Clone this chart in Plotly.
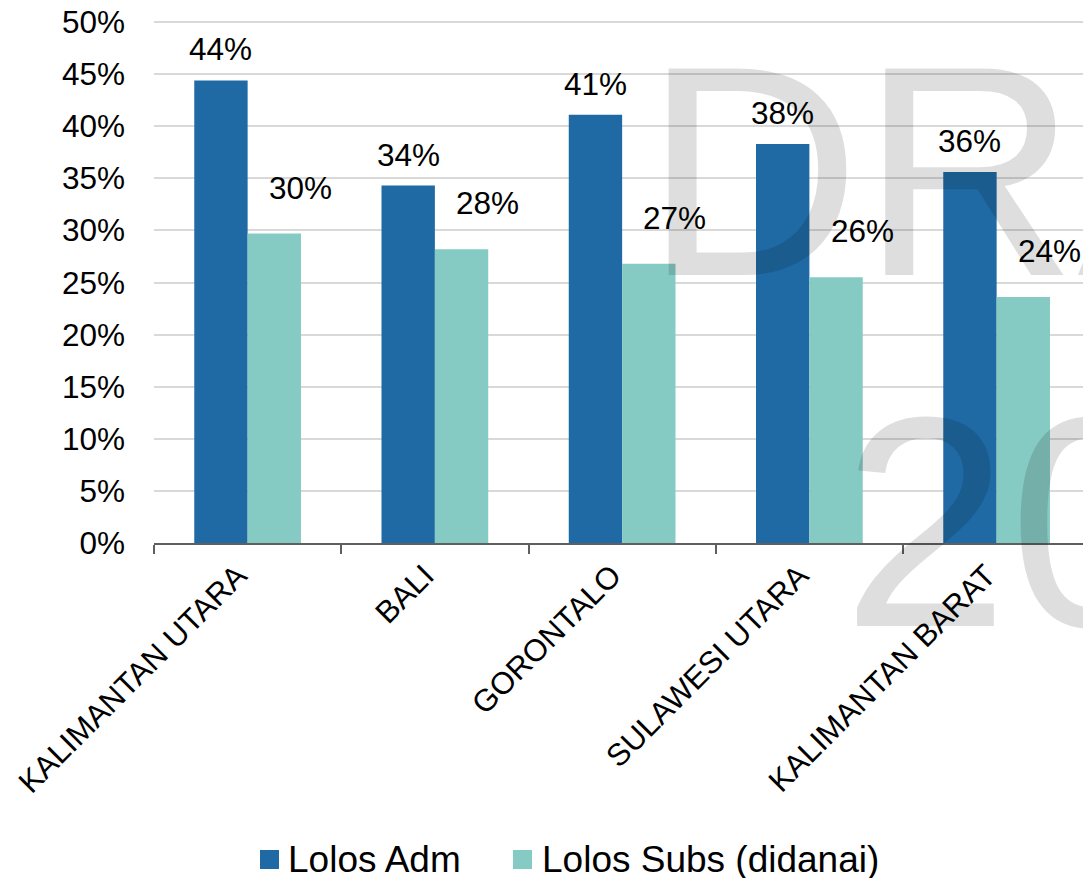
import plotly.graph_objects as go

# Provinces and shares of proposals passing each stage
provinces = ["KALIMANTAN UTARA", "BALI", "GORONTALO", "SULAWESI UTARA", "KALIMANTAN BARAT"]
lolos_adm = [0.444, 0.343, 0.411, 0.383, 0.356]
lolos_subs = [0.297, 0.282, 0.268, 0.255, 0.236]
y_ticks = [0, 0.05, 0.10, 0.15, 0.20, 0.25, 0.30, 0.35, 0.40, 0.45, 0.50]
series_names = ["Lolos Adm", "Lolos Subs (didanai)"]

BLUE = "#1f6aa5"
TEAL = "#86cbc3"
FONT = "Liberation Sans, Arial, sans-serif"

W, H = 1083, 878
ML, MR, MT, MB = 154, 0, 21, 335
PW = W - ML - MR
PH = H - MT - MB


def px_x(px):
    return (px - ML) / PW


def px_y(py):
    return (H - MB - py) / PH


fig = go.Figure()
fig.add_trace(go.Bar(x=provinces, y=lolos_adm, name=series_names[0],
                     marker=dict(color=BLUE, line=dict(width=0)), showlegend=False))
fig.add_trace(go.Bar(x=provinces, y=lolos_subs, name=series_names[1],
                     marker=dict(color=TEAL, line=dict(width=0)), showlegend=False))

BARGAP = 0.43
half = (1 - BARGAP) / 4  # offset of each bar centre from its category centre

annotations = []
# large translucent watermark over the plot
WM = dict(family=FONT, size=300, color="rgba(0,0,0,0.13)")
annotations.append(dict(text="DRAFT", xref="paper", yref="paper",
                        x=px_x(643), y=px_y(340), xanchor="left", yanchor="bottom",
                        showarrow=False, font=WM, borderpad=0))
annotations.append(dict(text="2024", xref="paper", yref="paper",
                        x=px_x(841), y=px_y(691), xanchor="left", yanchor="bottom",
                        showarrow=False, font=WM, borderpad=0))

# value labels above the bars
LBL = dict(family=FONT, size=31.5, color="black")
for i, (a, s) in enumerate(zip(lolos_adm, lolos_subs)):
    annotations.append(dict(x=i - half, y=a, text=f"{a:.0%}", showarrow=False,
                            xanchor="center", yanchor="bottom", yshift=11, font=LBL))
    annotations.append(dict(x=i + half, y=s, text=f"{s:.0%}", showarrow=False,
                            xanchor="center", yanchor="bottom", yshift=26, xshift=26,
                            font=LBL))

# legend drawn as swatches with text labels below the axis
shapes = []
legend_items = [(series_names[0], BLUE, 260, 286), (series_names[1], TEAL, 513, 540)]
for name, color, sx, tx in legend_items:
    shapes.append(dict(type="rect", xref="paper", yref="paper",
                       x0=px_x(sx), x1=px_x(sx + 19), y0=px_y(869), y1=px_y(850),
                       fillcolor=color, line=dict(width=0)))
    annotations.append(dict(text=name, xref="paper", yref="paper",
                            x=px_x(tx), y=px_y(859), xanchor="left", yanchor="middle",
                            showarrow=False,
                            font=dict(family=FONT, size=37, color="black")))

fig.update_layout(
    width=W, height=H,
    margin=dict(l=ML, r=MR, t=MT, b=MB, pad=0),
    paper_bgcolor="white", plot_bgcolor="white",
    barmode="group", bargap=BARGAP, bargroupgap=0,
    font=dict(family=FONT, color="black"),
    annotations=annotations, shapes=shapes,
    showlegend=False,
)
fig.update_xaxes(
    type="category", range=[-0.5, -0.5 + PW / 187.25],
    showline=True, linecolor="#5f5f5f", linewidth=2,
    ticks="outside", tickson="boundaries", ticklen=9, tickwidth=2, tickcolor="#5f5f5f",
    tickangle=-45, tickfont=dict(family=FONT, size=31, color="black"),
    ticklabelshift=-10,
    showgrid=False,
)
fig.update_yaxes(
    range=[0, 0.501], tickvals=y_ticks, tickformat=".0%",
    showgrid=True, gridcolor="#d9d9d9", gridwidth=2,
    zeroline=False, showline=False, ticks="",
    ticklabelstandoff=28,
    tickfont=dict(family=FONT, size=31.5, color="black"),
)

fig.write_html("out.html")
